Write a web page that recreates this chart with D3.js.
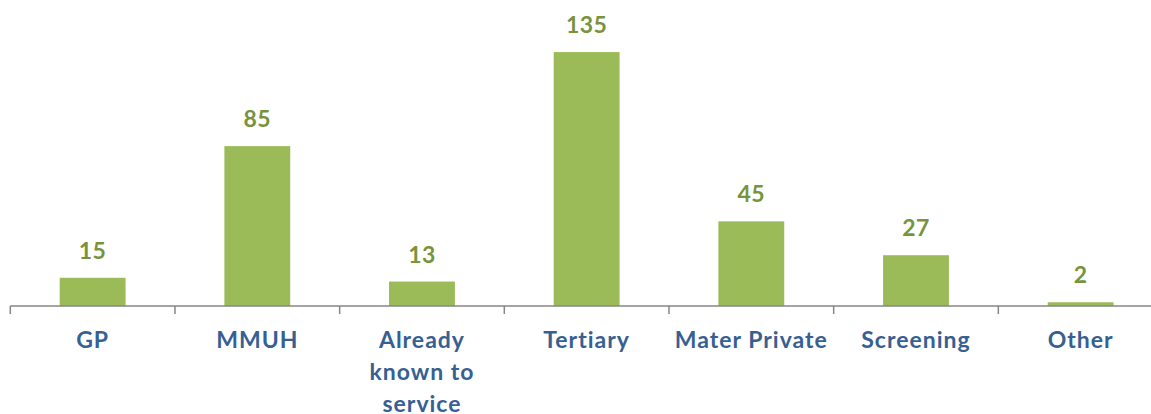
<!DOCTYPE html>
<html><head><meta charset="utf-8">
<script src="https://cdn.jsdelivr.net/npm/d3@7"></script>
<style>body{margin:0;background:#fff}svg{display:block}</style>
</head><body>
<svg id="c" width="1151" height="414"></svg>
<script>
const categories = ["GP","MMUH","Already known to service","Tertiary","Mater Private","Screening","Other"];
const categoryLines = [["GP"],["MMUH"],["Already","known to","service"],["Tertiary"],["Mater Private"],["Screening"],["Other"]];
const values = [15,85,13,135,45,27,2];

const svg = d3.select("#c");
const baseY = 306;
const x = d3.scaleBand().domain(categories).range([10.3, 10.3 + 164.67*7]).paddingInner(0.6).paddingOuter(0.3);
const y = d3.scaleLinear().domain([0, 140]).range([baseY, baseY - 140*1.881]);
const font = "Lato, 'Open Sans', sans-serif";

svg.selectAll("rect.bar").data(values).join("rect")
  .attr("class","bar")
  .attr("x",(d,i)=>x(categories[i]))
  .attr("width",x.bandwidth())
  .attr("y",d=>y(d))
  .attr("height",d=>baseY-y(d))
  .attr("fill","#9BBB59");

svg.selectAll("text.val").data(values).join("text")
  .attr("class","val")
  .attr("x",(d,i)=>x(categories[i])+x.bandwidth()/2)
  .attr("y",d=>y(d)-19)
  .attr("text-anchor","middle")
  .attr("font-family",font).attr("font-weight","bold").attr("font-size",23)
  .attr("letter-spacing",0.5)
  .attr("fill","#77933C")
  .text(d=>d);

// axis
const step = x.step();
const g = svg.append("g");
g.append("line").attr("x1",10.3).attr("x2",1151).attr("y1",baseY).attr("y2",baseY)
  .attr("stroke","#868686").attr("stroke-width",1.5);
const ticks = d3.range(categories.length+1).map(i=>10.3+i*step);
g.selectAll("line.tk").data(ticks).join("line").attr("class","tk")
  .attr("x1",d=>d).attr("x2",d=>d).attr("y1",baseY).attr("y2",baseY+8)
  .attr("stroke","#868686").attr("stroke-width",1.5);

categoryLines.forEach((lines,i)=>{
  const t = svg.append("text")
    .attr("x",x(categories[i])+x.bandwidth()/2)
    .attr("text-anchor","middle")
    .attr("font-family",font).attr("font-weight","bold").attr("font-size",23)
    .attr("letter-spacing",1)
    .attr("fill","#376092");
  lines.forEach((l,j)=>t.append("tspan").attr("x",x(categories[i])+x.bandwidth()/2).attr("y",348+j*32).text(l));
});
</script>
</body></html>
